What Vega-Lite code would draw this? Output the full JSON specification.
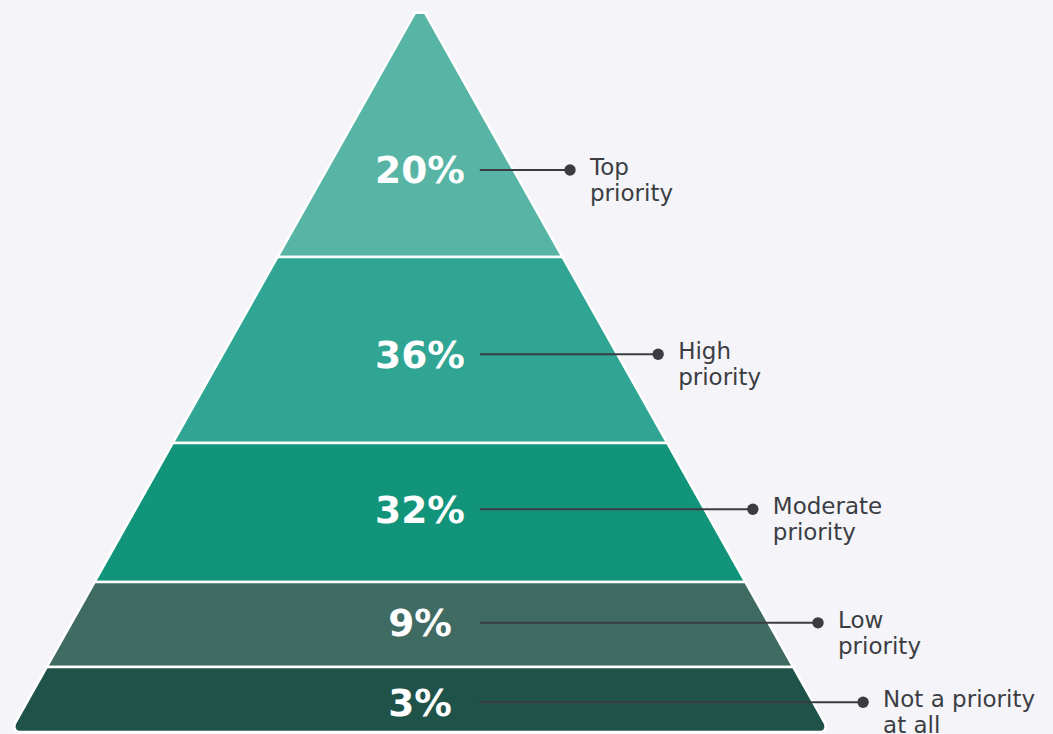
{
  "$schema": "https://vega.github.io/schema/vega-lite/v6.json",
  "description": "Priority pyramid",
  "width": 1053,
  "height": 734,
  "padding": 0,
  "autosize": {"type": "none"},
  "background": "#f5f5f9",
  "config": {"view": {"stroke": null}},
  "datasets": {
    "bands": [
      {"band": "Top priority", "depth": 1.2, "left": -1.2, "right": 1.2},
      {"band": "Top priority", "depth": 34.75, "left": -34.75, "right": 34.75},
      {"band": "High priority", "depth": 34.75, "left": -34.75, "right": 34.75},
      {"band": "High priority", "depth": 60.3, "left": -60.3, "right": 60.3},
      {"band": "Moderate priority", "depth": 60.3, "left": -60.3, "right": 60.3},
      {"band": "Moderate priority", "depth": 79.4, "left": -79.4, "right": 79.4},
      {"band": "Low priority", "depth": 79.4, "left": -79.4, "right": 79.4},
      {"band": "Low priority", "depth": 91.07, "left": -91.07, "right": 91.07},
      {"band": "Not a priority at all", "depth": 91.07, "left": -91.07, "right": 91.07},
      {"band": "Not a priority at all", "depth": 98.9, "left": -98.9, "right": 98.9},
      {"band": "Not a priority at all", "depth": 99.45, "left": -98.95, "right": 98.95},
      {"band": "Not a priority at all", "depth": 99.8, "left": -98.6, "right": 98.6},
      {"band": "Not a priority at all", "depth": 100, "left": -98.0, "right": 98.0}
    ],
    "levels": [
      {"band": "Top priority", "label": "Top\npriority", "pct": "20%", "depth": 22.8, "lineStart": 14.6, "dot": 36.6},
      {"band": "High priority", "label": "High\npriority", "pct": "36%", "depth": 48.1, "lineStart": 14.6, "dot": 58.1},
      {"band": "Moderate priority", "label": "Moderate\npriority", "pct": "32%", "depth": 69.4, "lineStart": 14.6, "dot": 81.2},
      {"band": "Low priority", "label": "Low\npriority", "pct": "9%", "depth": 85.0, "lineStart": 14.6, "dot": 97.1},
      {"band": "Not a priority at all", "label": "Not a priority\nat all", "pct": "3%", "depth": 95.9, "lineStart": 14.6, "dot": 108.1}
    ]
  },
  "layer": [
    {
      "data": {"name": "bands"},
      "mark": {"type": "area", "orient": "horizontal", "stroke": "#ffffff", "strokeWidth": 2.5, "strokeJoin": "round"},
      "encoding": {
        "y": {"field": "depth", "type": "quantitative", "axis": null,
              "scale": {"domain": [-0.55, 100.27], "reverse": true, "nice": false, "zero": false}},
        "x": {"field": "left", "type": "quantitative", "axis": null,
              "scale": {"domain": [-102.46, 154.43], "nice": false, "zero": false}},
        "x2": {"field": "right"},
        "color": {
          "field": "band", "type": "nominal", "legend": null,
          "scale": {
            "domain": ["Top priority", "High priority", "Moderate priority", "Low priority", "Not a priority at all"],
            "range": ["#58b5a6", "#31a593", "#12947b", "#406b63", "#1f5249"]
          }
        }
      }
    },
    {
      "data": {"name": "levels"},
      "mark": {"type": "rule", "color": "#3a3c41", "strokeWidth": 2},
      "encoding": {
        "y": {"field": "depth", "type": "quantitative", "axis": null,
              "scale": {"domain": [-0.55, 100.27], "reverse": true, "nice": false, "zero": false}},
        "x": {"field": "lineStart", "type": "quantitative", "axis": null,
              "scale": {"domain": [-102.46, 154.43], "nice": false, "zero": false}},
        "x2": {"field": "dot"}
      }
    },
    {
      "data": {"name": "levels"},
      "mark": {"type": "point", "filled": true, "color": "#3a3c41", "size": 130, "opacity": 1},
      "encoding": {
        "y": {"field": "depth", "type": "quantitative", "axis": null,
              "scale": {"domain": [-0.55, 100.27], "reverse": true, "nice": false, "zero": false}},
        "x": {"field": "dot", "type": "quantitative", "axis": null,
              "scale": {"domain": [-102.46, 154.43], "nice": false, "zero": false}}
      }
    },
    {
      "data": {"name": "levels"},
      "mark": {"type": "text", "font": "DejaVu Sans", "fontWeight": "bold", "fontSize": 37.5,
               "color": "#ffffff", "align": "center", "baseline": "alphabetic", "dy": 13.5},
      "encoding": {
        "y": {"field": "depth", "type": "quantitative", "axis": null,
              "scale": {"domain": [-0.55, 100.27], "reverse": true, "nice": false, "zero": false}},
        "x": {"datum": 0, "type": "quantitative", "axis": null,
              "scale": {"domain": [-102.46, 154.43], "nice": false, "zero": false}},
        "text": {"field": "pct", "type": "nominal"}
      }
    },
    {
      "data": {"name": "levels"},
      "mark": {"type": "text", "font": "DejaVu Sans", "fontSize": 23, "color": "#3b3d43",
               "align": "left", "baseline": "alphabetic", "dx": 20, "dy": 5,
               "lineBreak": "\n", "lineHeight": 26},
      "encoding": {
        "y": {"field": "depth", "type": "quantitative", "axis": null,
              "scale": {"domain": [-0.55, 100.27], "reverse": true, "nice": false, "zero": false}},
        "x": {"field": "dot", "type": "quantitative", "axis": null,
              "scale": {"domain": [-102.46, 154.43], "nice": false, "zero": false}},
        "text": {"field": "label", "type": "nominal"}
      }
    }
  ]
}
